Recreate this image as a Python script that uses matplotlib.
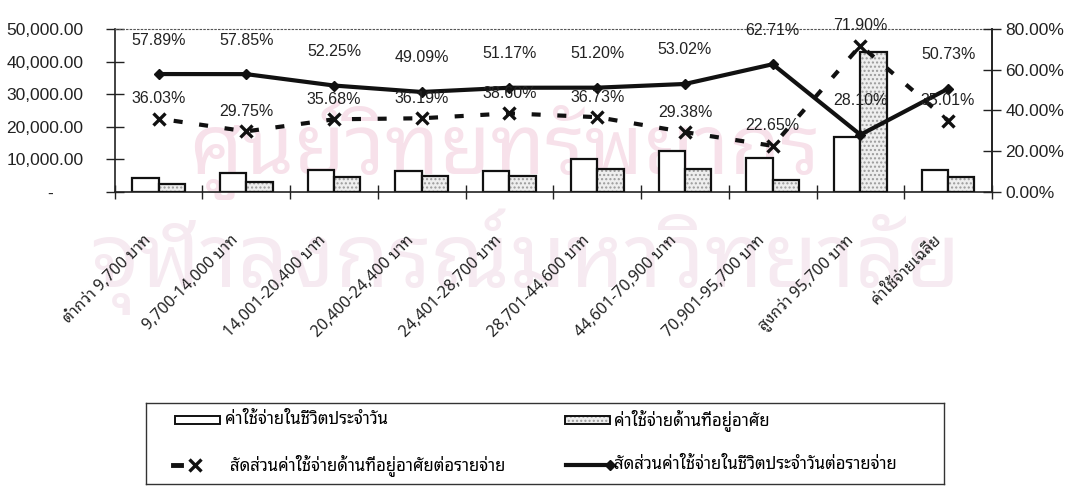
import numpy as np
import matplotlib
matplotlib.use("Agg")
import matplotlib.pyplot as plt
from matplotlib import transforms
from matplotlib.lines import Line2D
from matplotlib.patches import Rectangle

plt.rcParams['font.family'] = ['Liberation Sans', 'DejaVu Sans']
plt.rcParams['lines.scale_dashes'] = False
THAI = ['Noto Sans Thai Looped', 'Noto Sans Thai', 'DejaVu Sans']

# ช่วงรายได้
categories = ['ต่ำกว่า 9,700 บาท', '9,700-14,000 บาท', '14,001-20,400 บาท',
              '20,400-24,400 บาท', '24,401-28,700 บาท', '28,701-44,600 บาท',
              '44,601-70,900 บาท', '70,901-95,700 บาท', 'สูงกว่า 95,700 บาท',
              'ค่าใช้จ่ายเฉลี่ย']
# ค่าใช้จ่าย (บาท)
daily_cost = [4150, 5900, 6800, 6500, 6400, 10000, 12500, 10300, 16800, 6800]
housing_cost = [2580, 3030, 4640, 4790, 4830, 7170, 6930, 3720, 43000, 4690]
# สัดส่วน (%)
daily_share = [57.89, 57.85, 52.25, 49.09, 51.17, 51.20, 53.02, 62.71, 28.10, 50.73]
housing_share = [36.03, 29.75, 35.68, 36.19, 38.60, 36.73, 29.38, 22.65, 71.90, 35.01]

left_ticks = [0, 10000, 20000, 30000, 40000, 50000]
right_ticks = [0, 20, 40, 60, 80]

legend_labels = ['ค่าใช้จ่ายในชีวิตประจำวัน', 'ค่าใช้จ่ายด้านที่อยู่อาศัย',
                 'สัดส่วนค่าใช้จ่ายด้านที่อยู่อาศัยต่อรายจ่าย',
                 'สัดส่วนค่าใช้จ่ายในชีวิตประจำวันต่อรายจ่าย']

W, H = 1074, 486
fig = plt.figure(figsize=(W / 100, H / 100), dpi=100)

# ลายน้ำ
fig.text(505 / W, 1 - 150 / H, 'ศูนย์วิทยทรัพยากร', family=THAI, fontsize=60,
         fontweight='bold', color='#f7e1ea', ha='center', va='center', zorder=-1)
fig.text(525 / W, 1 - 262 / H, 'จุฬาลงกรณ์มหาวิทยาลัย', family=THAI, fontsize=64,
         fontweight='bold', color='#f6eaf1', ha='center', va='center', zorder=-1)

x0, x1, y0, y1 = 114.7, 992, 29, 192
ax = fig.add_axes([x0 / W, 1 - y1 / H, (x1 - x0) / W, (y1 - y0) / H])
ax.patch.set_visible(False)
x = np.arange(len(categories))
bw = 0.3

ax.bar(x - bw / 2, daily_cost, bw, color='white', edgecolor='#111', lw=1.6, zorder=2)
ax.bar(x + bw / 2, housing_cost, bw, color='#eeeeee', edgecolor='#9a9a9a', hatch='....',
       lw=0, zorder=2)
ax.bar(x + bw / 2, housing_cost, bw, color='none', edgecolor='#111', lw=1.6, zorder=3)

ax.set_xlim(-0.5, len(categories) - 0.5)
ax.set_ylim(0, 50000)
ax.set_yticks(left_ticks)
ax.set_yticklabels(['-      '] + ['{:,.2f}'.format(v) for v in left_ticks[1:]])
ax.tick_params(axis='y', direction='inout', length=13, width=1, labelsize=12.5,
               pad=16, colors='#222')
ax.set_xticks(x)
ax.set_xticklabels(categories, rotation=45, ha='right', va='center',
                   rotation_mode='anchor', family=THAI, fontsize=11.5, color='#222')
ax.tick_params(axis='x', length=0, pad=33)
shift = transforms.ScaledTranslation(-0.10, 0, fig.dpi_scale_trans)
for lab in ax.get_xticklabels():
    lab.set_transform(lab.get_transform() + shift)
ax.set_xticks(np.arange(-0.5, len(categories)), minor=True)
ax.tick_params(axis='x', which='minor', direction='inout', length=9.5, width=1,
               colors='#222')
for s in ['left', 'bottom', 'right']:
    ax.spines[s].set_color('#222')
    ax.spines[s].set_linewidth(1.2)
ax.spines['top'].set_linestyle(':')
ax.spines['top'].set_color('#555')

ax2 = ax.twinx()
ax2.patch.set_visible(False)
ax2.set_ylim(0, 80)
ax2.set_yticks(right_ticks)
ax2.set_yticklabels(['{:.2f}%'.format(v) for v in right_ticks])
ax2.tick_params(axis='y', direction='inout', length=13, width=1, labelsize=12.5,
                pad=3, colors='#222')
for s in ['left', 'bottom', 'top']:
    ax2.spines[s].set_visible(False)
ax2.spines['right'].set_color('#222')
ax2.spines['right'].set_linewidth(1.2)

ax2.plot(x, daily_share, color='#111', lw=3, marker='D', ms=5, zorder=5)
ax2.plot(x, housing_share, color='#111', lw=3, ls=(7.5, (6.5, 12)), marker='x',
         ms=9, mew=2.4, zorder=5)

for xi, v in zip(x, daily_share):
    ax2.annotate('{:.2f}%'.format(v), (xi, v), xytext=(0, 34), textcoords='offset pixels',
                 ha='center', va='center', fontsize=11.5, color='#222', zorder=6)
for xi, v in zip(x, housing_share):
    ax2.annotate('{:.2f}%'.format(v), (xi, v), xytext=(0, 20), textcoords='offset pixels',
                 ha='center', va='center', fontsize=11.5, color='#222', zorder=6)

# คำอธิบายสัญลักษณ์
lx0, lx1, ly0, ly1 = 146, 944, 403, 484
lg = fig.add_axes([lx0 / W, 1 - ly1 / H, (lx1 - lx0) / W, (ly1 - ly0) / H])
lg.set_xlim(lx0, lx1)
lg.set_ylim(ly1, ly0)
lg.set_xticks([])
lg.set_yticks([])
for s in lg.spines.values():
    s.set_color('#333')
    s.set_linewidth(1)

r1, r2 = 420, 465
lg.add_patch(Rectangle((175, r1 - 4), 45, 8, facecolor='white', edgecolor='#111', lw=1.4))
lg.add_patch(Rectangle((565, r1 - 4), 45, 8, facecolor='#eeeeee', edgecolor='#9a9a9a',
                       hatch='....', lw=0))
lg.add_patch(Rectangle((565, r1 - 4), 45, 8, facecolor='none', edgecolor='#111', lw=1.4))
lg.add_line(Line2D([173, 181], [r2, r2], color='#111', lw=3.5))
lg.add_line(Line2D([195], [r2], color='#111', marker='x', ms=9, mew=2.4))
lg.add_line(Line2D([566, 610], [r2, r2], color='#111', lw=3, marker='D', ms=5,
                   markevery=[1]))
lg.text(225, r1, legend_labels[0], family=THAI, fontsize=12, va='center')
lg.text(614, r1, legend_labels[1], family=THAI, fontsize=12, va='center')
lg.text(230, r2, legend_labels[2], family=THAI, fontsize=12, va='center')
lg.text(614, r2, legend_labels[3], family=THAI, fontsize=12, va='center')

fig.savefig('out.png', dpi=100)
